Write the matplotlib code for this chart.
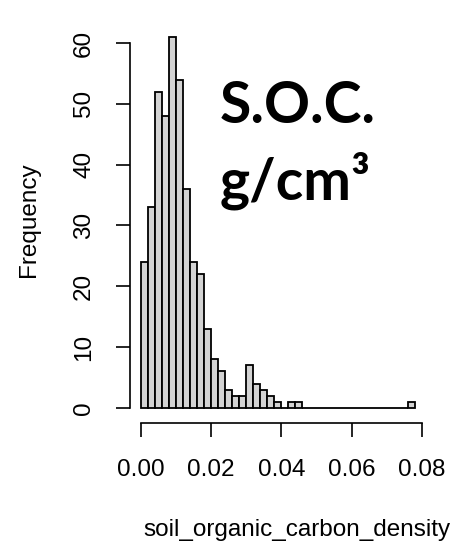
import numpy as np
import matplotlib
matplotlib.use("Agg")
import matplotlib.pyplot as plt

# histogram counts, bins of width 0.002 starting at 0
bin_width = 0.002
counts = [24, 33, 52, 48, 61, 54, 36, 24, 22, 13,
          8, 6, 3, 2, 2, 7, 4, 3, 2, 1,
          0, 1, 1, 0, 0, 0, 0, 0, 0, 0,
          0, 0, 0, 0, 0, 0, 0, 0, 1]
x_ticks = [0.00, 0.02, 0.04, 0.06, 0.08]
y_ticks = [0, 10, 20, 30, 40, 50, 60]

plt.rcParams['font.family'] = ['Liberation Sans', 'DejaVu Sans']

fig = plt.figure(figsize=(4.57, 5.43), dpi=100)
ax = fig.add_axes([0.284, 0.2214, 0.6475, 0.7379])

edges = np.arange(len(counts)) * bin_width
ax.bar(edges, counts, width=bin_width, align='edge',
       color='#d3d3d3', edgecolor='black', linewidth=1.3)

ax.set_xlim(-0.00312, 0.08112)
ax.set_ylim(-2.44, 63.44)

for s in ['top', 'right']:
    ax.spines[s].set_visible(False)
ax.spines['left'].set_bounds(0, 60)
ax.spines['bottom'].set_bounds(0, 0.08)
for s in ['left', 'bottom']:
    ax.spines[s].set_linewidth(1.2)

ax.set_xticks(x_ticks)
ax.set_xticklabels(['%.2f' % v for v in x_ticks])
ax.set_yticks(y_ticks)
ax.set_yticklabels([str(v) for v in y_ticks], rotation=90, va='center')
ax.tick_params(axis='both', direction='out', length=10, width=1.2,
               labelsize=17.5)
ax.tick_params(axis='x', pad=16)
ax.tick_params(axis='y', pad=15)

fig.text(0.649, 1 - 530 / 543, 'soil_organic_carbon_density',
         ha='center', va='center', fontsize=17.5)
fig.text(29 / 457, 1 - 220 / 543, 'Frequency', rotation=90,
         ha='center', va='center', fontsize=17.5)

# big annotation in the upper right
fig.text(220 / 457, 1 - 123 / 543, 'S.O.C.', fontsize=41, fontweight='bold',
         family=['Lato', 'DejaVu Sans'], ha='left', va='baseline')
fig.text(220 / 457, 1 - 200 / 543, 'g/cm³', fontsize=41, fontweight='bold',
         family=['Lato', 'DejaVu Sans'], ha='left', va='baseline')

fig.savefig('out.png', dpi=100)
